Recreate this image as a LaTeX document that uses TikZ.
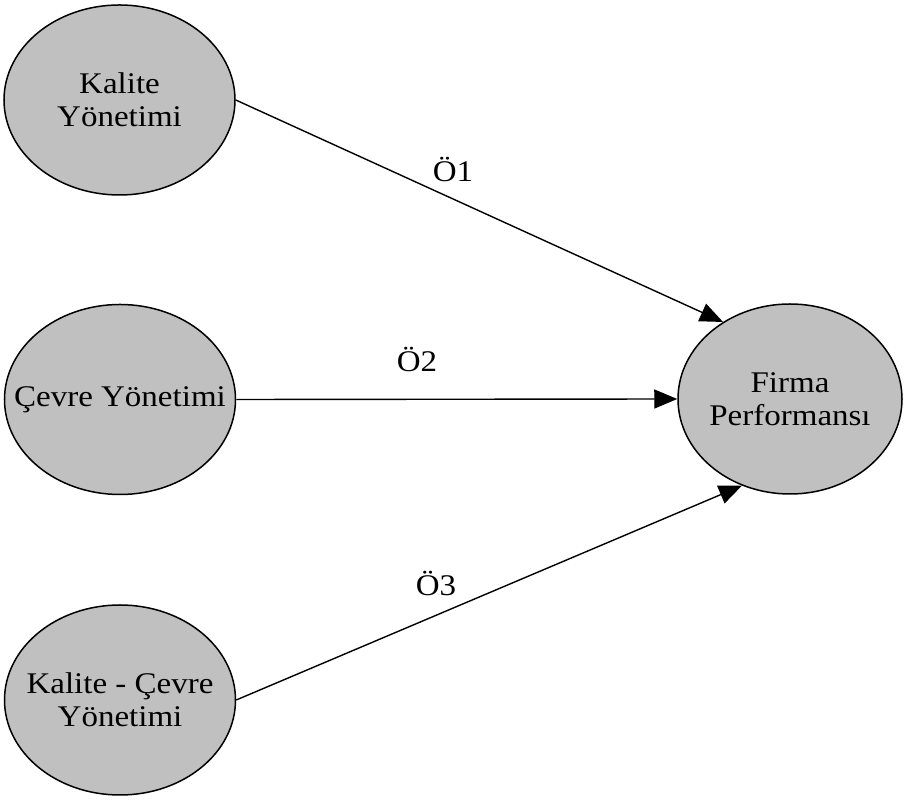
\documentclass[tikz,border=0pt]{standalone}
\usepackage{fontspec}
\setmainfont{Liberation Serif}[FakeStretch=1.1]
\usetikzlibrary{arrows.meta,shapes.geometric}
\definecolor{nodegrey}{RGB}{192,192,192}
\tikzset{
  var/.style={ellipse, draw=black, line width=1.5pt, fill=nodegrey, inner sep=0pt,
    minimum width=231pt, minimum height=190pt},
  vartext/.style={align=center, inner sep=0pt, font=\fontsize{30}{33}\selectfont},
  link/.style={line width=1.4pt, -{Triangle[length=23pt,width=19pt]}},
  lab/.style={font=\fontsize{30}{33}\selectfont, inner sep=0pt}
}
\begin{document}
\begin{tikzpicture}[x=1pt,y=1pt]
\useasboundingbox (0,0) rectangle (905,800);
\node[var] (kal) at (119.5,700) {};
\node[var] (cev) at (120,400.5) {};
\node[var] (kc) at (120,100) {};
\node[var, minimum width=224pt] (ff) at (790,401) {};
\node[vartext] (kalt) at (kal.center) {Kalite\\Yönetimi};
\node[vartext] (cevt) at (cev.center) {Çevre Yönetimi};
\node[vartext] (kct) at (kc.center) {Kalite - Çevre\\Yönetimi};
\node[vartext] (fft) at (ff.center) {Firma\\Performansı};
\draw[link] (kal.east) -- (ff.131);
\draw[link] (cev.east) -- (ff.west);
\draw[link] (kc.east) -- (ff.241.6);
\node[lab] (o1) at (453,630) {Ö1};
\node[lab] (o2) at (417,440) {Ö2};
\node[lab] (o3) at (436,217) {Ö3};
\end{tikzpicture}
\end{document}
